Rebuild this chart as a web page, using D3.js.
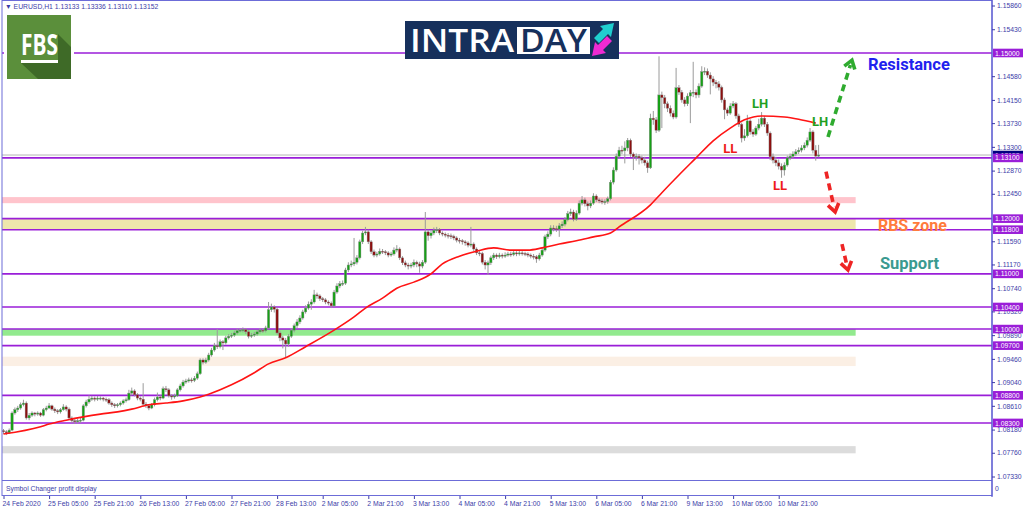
<!DOCTYPE html>
<html>
<head>
<meta charset="utf-8">
<script src="https://cdn.jsdelivr.net/npm/d3@7"></script>
<style>
body { margin: 0; background: #fff; }
svg { display: block; }
</style>
</head>
<body>
<svg id="chart" width="1024" height="511"></svg>
<script>
// EURUSD H1, 24 Feb 13:00 .. 11 Mar 11:00
var firstOpen = 1.0816;
var closes = [
  1.0814,1.0812,1.0817,1.0848,1.0854,1.0857,1.0863,1.0866,1.0839,1.0844,
  1.0848,1.0846,1.0848,1.0844,1.0854,1.0857,1.0861,1.0855,1.0852,1.0850,
  1.0854,1.0859,1.0855,1.0839,1.0834,1.0832,1.0834,1.0835,1.0861,1.0868,
  1.0873,1.0875,1.0873,1.0875,1.0875,1.0873,1.0872,1.0866,1.0863,1.0861,
  1.0863,1.0866,1.0870,1.0872,1.0884,1.0888,1.0881,1.0875,1.0873,1.0864,
  1.0861,1.0857,1.0863,1.0872,1.0877,1.0875,1.0892,1.0890,1.0879,1.0877,
  1.0879,1.0890,1.0897,1.0904,1.0906,1.0908,1.0907,1.0911,1.0919,1.0944,
  1.0940,1.0944,1.0953,1.0962,1.0970,1.0968,1.0977,1.0975,1.0984,1.0987,
  1.0989,1.0993,1.0997,1.0998,1.0999,1.0995,1.0987,1.0989,1.0991,1.0995,
  1.0998,1.0997,1.1002,1.1035,1.1040,1.1036,1.0993,1.0984,1.0980,1.0973,
  1.0987,1.0998,1.1006,1.1013,1.1020,1.1031,1.1038,1.1045,1.1049,1.1062,
  1.1060,1.1055,1.1053,1.1049,1.1047,1.1042,1.1067,1.1078,1.1082,1.1083,
  1.1107,1.1116,1.1118,1.1121,1.1129,1.1158,1.1174,1.1176,1.1158,1.1140,
  1.1134,1.1136,1.1141,1.1140,1.1138,1.1134,1.1136,1.1143,1.1145,1.1129,
  1.1120,1.1116,1.1114,1.1116,1.1121,1.1118,1.1114,1.1121,1.1176,1.1169,
  1.1174,1.1179,1.1180,1.1174,1.1172,1.1170,1.1169,1.1168,1.1165,1.1161,
  1.1160,1.1158,1.1156,1.1152,1.1154,1.1145,1.1138,1.1137,1.1121,1.1116,
  1.1120,1.1129,1.1134,1.1131,1.1134,1.1132,1.1134,1.1136,1.1135,1.1138,
  1.1136,1.1138,1.1137,1.1136,1.1134,1.1132,1.1131,1.1127,1.1134,1.1143,
  1.1167,1.1172,1.1183,1.1182,1.1181,1.1187,1.1190,1.1198,1.1209,1.1212,
  1.1199,1.1210,1.1228,1.1234,1.1227,1.1223,1.1228,1.1241,1.1234,1.1232,
  1.1230,1.1231,1.1236,1.1266,1.1288,1.1313,1.1324,1.1323,1.1328,1.1342,
  1.1317,1.1312,1.1313,1.1310,1.1306,1.1301,1.1292,1.1382,1.1379,1.1360,
  1.1424,1.1419,1.1408,1.1400,1.1391,1.1384,1.1437,1.1429,1.1415,1.1408,
  1.1422,1.1428,1.1429,1.1424,1.1440,1.1466,1.1467,1.1460,1.1453,1.1447,
  1.1444,1.1438,1.1415,1.1397,1.1391,1.1404,1.1408,1.1386,1.1371,1.1346,
  1.1350,1.1377,1.1357,1.1353,1.1364,1.1371,1.1382,1.1371,1.1355,1.1312,
  1.1306,1.1301,1.1295,1.1288,1.1297,1.1310,1.1313,1.1317,1.1321,1.1324,
  1.1328,1.1333,1.1342,1.1357,1.1324,1.13133,1.13152
];
var highs = [
  1.0819,1.0817,1.0820,1.0851,1.0858,1.0861,1.0867,1.0872,1.0869,1.0848,
  1.0851,1.0850,1.0851,1.0850,1.0857,1.0861,1.0866,1.0863,1.0858,1.0855,
  1.0857,1.0864,1.0862,1.0858,1.0842,1.0837,1.0838,1.0839,1.0864,1.0872,
  1.0880,1.0879,1.0878,1.0879,1.0878,1.0877,1.0876,1.0875,1.0869,1.0866,
  1.0866,1.0869,1.0873,1.0876,1.0890,1.0894,1.0891,1.0884,1.0878,1.0902,
  1.0868,1.0864,1.0866,1.0876,1.0885,1.0880,1.0896,1.0897,1.0893,1.0882,
  1.0883,1.0893,1.0901,1.0908,1.0910,1.0912,1.0912,1.0915,1.0923,1.0947,
  1.0947,1.0948,1.0957,1.0966,1.0975,1.1000,1.0981,1.0980,1.0988,1.0991,
  1.0993,1.0997,1.1001,1.1002,1.1003,1.1002,1.0998,1.0993,1.0995,1.0998,
  1.1002,1.1001,1.1006,1.1049,1.1046,1.1043,1.1039,1.0997,1.0988,1.0984,
  1.0991,1.1002,1.1010,1.1018,1.1025,1.1035,1.1043,1.1050,1.1054,1.1071,
  1.1066,1.1063,1.1058,1.1056,1.1052,1.1050,1.1071,1.1083,1.1087,1.1088,
  1.1111,1.1121,1.1124,1.1165,1.1134,1.1162,1.1178,1.1185,1.1180,1.1161,
  1.1144,1.1140,1.1146,1.1145,1.1143,1.1141,1.1140,1.1148,1.1152,1.1148,
  1.1132,1.1124,1.1120,1.1120,1.1126,1.1124,1.1122,1.1125,1.1212,1.1180,
  1.1179,1.1184,1.1185,1.1183,1.1177,1.1175,1.1174,1.1173,1.1171,1.1168,
  1.1165,1.1163,1.1161,1.1159,1.1185,1.1157,1.1148,1.1142,1.1140,1.1125,
  1.1124,1.1133,1.1138,1.1137,1.1138,1.1137,1.1139,1.1140,1.1140,1.1142,
  1.1141,1.1143,1.1141,1.1140,1.1139,1.1137,1.1136,1.1134,1.1138,1.1147,
  1.1171,1.1177,1.1188,1.1188,1.1187,1.1192,1.1195,1.1203,1.1214,1.1218,
  1.1216,1.1215,1.1233,1.1241,1.1238,1.1231,1.1233,1.1246,1.1244,1.1237,
  1.1236,1.1235,1.1240,1.1270,1.1293,1.1318,1.1330,1.1332,1.1340,1.1346,
  1.1345,1.1320,1.1318,1.1317,1.1314,1.1312,1.1305,1.1390,1.1395,1.1384,
  1.1494,1.1430,1.1424,1.1412,1.1405,1.1396,1.1473,1.1442,1.1433,1.1420,
  1.1427,1.1433,1.1484,1.1434,1.1445,1.1476,1.1474,1.1472,1.1465,1.1458,
  1.1451,1.1449,1.1441,1.1419,1.1401,1.1409,1.1413,1.1411,1.1390,1.1374,
  1.1362,1.1388,1.1380,1.1362,1.1368,1.1381,1.1393,1.1386,1.1375,1.1358,
  1.1318,1.1312,1.1307,1.1300,1.1302,1.1314,1.1318,1.1322,1.1326,1.1329,
  1.1333,1.1338,1.1347,1.1364,1.1360,1.1333,1.13336
];
var lows = [
  1.0810,1.0808,1.0810,1.0815,1.0845,1.0850,1.0854,1.0860,1.0836,1.0835,
  1.0841,1.0842,1.0843,1.0841,1.0842,1.0851,1.0855,1.0852,1.0848,1.0846,
  1.0847,1.0852,1.0851,1.0836,1.0830,1.0828,1.0829,1.0830,1.0833,1.0858,
  1.0865,1.0870,1.0869,1.0870,1.0871,1.0869,1.0868,1.0863,1.0859,1.0857,
  1.0858,1.0860,1.0863,1.0867,1.0870,1.0880,1.0878,1.0871,1.0869,1.0861,
  1.0857,1.0853,1.0855,1.0860,1.0869,1.0871,1.0873,1.0886,1.0876,1.0872,
  1.0874,1.0877,1.0887,1.0894,1.0901,1.0903,1.0903,1.0904,1.0908,1.0917,
  1.0936,1.0937,1.0941,1.0950,1.0959,1.0964,1.0965,1.0962,1.0972,1.0981,
  1.0984,1.0986,1.0990,1.0994,1.0994,1.0991,1.0983,1.0984,1.0986,1.0988,
  1.0992,1.0993,1.0994,1.1000,1.1031,1.1030,1.0990,1.0978,1.0965,1.0949,
  1.0968,1.0984,1.0994,1.1002,1.1009,1.1017,1.1028,1.1035,1.1035,1.1046,
  1.1055,1.1051,1.1049,1.1045,1.1043,1.1038,1.1040,1.1064,1.1074,1.1078,
  1.1080,1.1103,1.1112,1.1114,1.1117,1.1126,1.1154,1.1170,1.1154,1.1136,
  1.1130,1.1130,1.1133,1.1136,1.1134,1.1130,1.1131,1.1133,1.1139,1.1125,
  1.1116,1.1112,1.1108,1.1110,1.1112,1.1112,1.1102,1.1110,1.1118,1.1160,
  1.1164,1.1170,1.1174,1.1170,1.1168,1.1166,1.1164,1.1163,1.1161,1.1157,
  1.1155,1.1153,1.1151,1.1148,1.1148,1.1141,1.1134,1.1132,1.1117,1.1108,
  1.1098,1.1116,1.1125,1.1127,1.1128,1.1128,1.1129,1.1131,1.1131,1.1132,
  1.1132,1.1133,1.1133,1.1132,1.1130,1.1128,1.1126,1.1120,1.1124,1.1131,
  1.1140,1.1163,1.1168,1.1177,1.1176,1.1167,1.1183,1.1186,1.1195,1.1205,
  1.1195,1.1196,1.1207,1.1224,1.1222,1.1215,1.1219,1.1225,1.1230,1.1228,
  1.1226,1.1225,1.1227,1.1233,1.1262,1.1285,1.1309,1.1317,1.1300,1.1322,
  1.1312,1.1288,1.1305,1.1298,1.1300,1.1296,1.1283,1.1290,1.1370,1.1355,
  1.1357,1.1364,1.1400,1.1393,1.1385,1.1380,1.1381,1.1424,1.1410,1.1403,
  1.1404,1.1373,1.1420,1.1418,1.1419,1.1437,1.1460,1.1455,1.1425,1.1440,
  1.1436,1.1432,1.1410,1.1380,1.1386,1.1388,1.1400,1.1381,1.1366,1.1338,
  1.1341,1.1347,1.1352,1.1348,1.1350,1.1360,1.1367,1.1366,1.1350,1.1306,
  1.1300,1.1295,1.1289,1.1274,1.1278,1.1294,1.1306,1.1309,1.1313,1.1317,
  1.1320,1.1324,1.1329,1.1339,1.1318,1.1305,1.13110
];

// red moving average, read at a few bars
var maBars = [0,13,16,22,28,34,40,45,51,57,63,69,72,80,88,93,99,106,116,123,127,133,138,144,150,154,160,166,172,178,184,189,195,201,207,213,216,227,231,237,243,249,255,260,266,274,279,285];
var maValues = [1.0810,1.0823,1.0828,1.0835,1.0841,1.0846,1.0850,1.0855,1.0863,1.0866,1.0870,1.0877,1.0882,1.0899,1.0921,1.0937,1.0948,1.0968,1.0998,1.1022,1.1038,1.1056,1.1074,1.1085,1.1100,1.1118,1.1132,1.1141,1.1147,1.1143,1.1143,1.1147,1.1154,1.1160,1.1167,1.1174,1.1185,1.1225,1.1247,1.1279,1.1310,1.1341,1.1364,1.1379,1.1386,1.1384,1.1380,1.1373];

var priceTicks = [1.15860,1.15430,1.14580,1.14150,1.13730,1.13300,1.12870,1.12450,1.11590,1.11170,1.10740,1.10320,1.09890,1.09460,1.09040,1.08610,1.08180,1.07760,1.07330];
var levels = [1.15000,1.13100,1.12000,1.11800,1.11000,1.10400,1.10000,1.09700,1.08800,1.08300];
var zoneTops = [1.1239,1.1200,1.1000,1.0950,1.0788];
var zoneBottoms = [1.1228,1.1180,1.0988,1.0933,1.0775];
var timeLabels = ["24 Feb 2020","25 Feb 05:00","25 Feb 21:00","26 Feb 13:00","27 Feb 05:00","27 Feb 21:00","28 Feb 13:00","2 Mar 05:00","2 Mar 21:00","3 Mar 13:00","4 Mar 05:00","4 Mar 21:00","5 Mar 13:00","6 Mar 05:00","6 Mar 21:00","9 Mar 13:00","10 Mar 05:00","10 Mar 21:00"];
var barsPerLabel = 16;
var lastBid = 1.13152;

var zoneColors = ["#ffc4cc","#eee7ac","#92ea8e","#fbefe4","#dcdcdc"];
var axisColor = "#3c3ca8";
var levelColor = "#9a1ed8";
var uiFont = "'Liberation Sans', Arial, sans-serif";

var svg = d3.select("#chart");
var x = d3.scaleLinear().domain([0, closes.length - 1]).range([3.5, 818.6]);
var y = d3.scaleLinear().domain([1.0733, 1.1586]).range([476.5, 5.5]);

var candles = closes.map(function(c, i) {
  var o = i === 0 ? firstOpen : closes[i - 1];
  return { i: i, o: o, c: c, h: Math.max(highs[i], o, c), l: Math.min(lows[i], o, c) };
});

svg.append("defs").append("clipPath").attr("id", "plot")
  .append("rect").attr("x", 2).attr("y", 1).attr("width", 990).attr("height", 479);

var plot = svg.append("g").attr("clip-path", "url(#plot)");

// zones (rectangles stop at bar ~299)
plot.selectAll(".zone").data(zoneTops).enter().append("rect")
  .attr("class", "zone")
  .attr("x", 2)
  .attr("y", function(d) { return y(d); })
  .attr("width", x(299) - 2)
  .attr("height", function(d, i) { return y(zoneBottoms[i]) - y(d); })
  .attr("fill", function(d, i) { return zoneColors[i]; });

// bid line
plot.append("line")
  .attr("x1", 2).attr("x2", 992)
  .attr("y1", y(lastBid)).attr("y2", y(lastBid))
  .attr("stroke", "#b4b4b4").attr("stroke-width", 1);

// horizontal levels
plot.selectAll(".level").data(levels).enter().append("line")
  .attr("class", "level")
  .attr("x1", 2).attr("x2", 992)
  .attr("y1", function(d) { return y(d); })
  .attr("y2", function(d) { return y(d); })
  .attr("stroke", levelColor).attr("stroke-width", 1.6);

// candles
var cg = plot.selectAll(".candle").data(candles).enter().append("g").attr("class", "candle");
cg.append("line")
  .attr("x1", function(d) { return x(d.i); })
  .attr("x2", function(d) { return x(d.i); })
  .attr("y1", function(d) { return y(d.h); })
  .attr("y2", function(d) { return y(d.l); })
  .attr("stroke", "#9a9a9a").attr("stroke-width", 1);
cg.append("rect")
  .attr("x", function(d) { return x(d.i) - 1.2; })
  .attr("width", 2.4)
  .attr("y", function(d) { return y(Math.max(d.o, d.c)); })
  .attr("height", function(d) { return Math.max(1, Math.abs(y(d.o) - y(d.c))); })
  .attr("fill", function(d) { return d.c >= d.o ? "#16a016" : "#8c0f0f"; })
  .attr("stroke", "#8a8a8a").attr("stroke-width", 0.4);

// moving average
plot.append("path")
  .datum(maBars)
  .attr("fill", "none")
  .attr("stroke", "#ff1414")
  .attr("stroke-width", 1.6)
  .attr("d", d3.line()
    .x(function(d) { return x(d); })
    .y(function(d, i) { return y(maValues[i]); })
    .curve(d3.curveMonotoneX));

// frame
svg.append("rect").attr("x", 2).attr("y", 0.5).attr("width", 990).attr("height", 495)
  .attr("fill", "none").attr("stroke", "#6c6cd8").attr("stroke-width", 1);
svg.append("line").attr("x1", 2).attr("x2", 992).attr("y1", 480.5).attr("y2", 480.5)
  .attr("stroke", "#6c6cd8").attr("stroke-width", 1.2);
svg.append("line").attr("x1", 992).attr("x2", 992).attr("y1", 0).attr("y2", 497)
  .attr("stroke", "#5a5ad0").attr("stroke-width", 1.2);

// header
svg.append("text").attr("x", 5).attr("y", 9)
  .attr("font-family", uiFont).attr("font-size", 6.8).attr("fill", axisColor)
  .text("\u25BC EURUSD,H1  1.13133 1.13336 1.13110 1.13152");
svg.append("text").attr("x", 6).attr("y", 491)
  .attr("font-family", uiFont).attr("font-size", 6.8).attr("fill", axisColor)
  .text("Symbol Changer profit display");

// FBS logo
var fbs = svg.append("g");
fbs.append("rect").attr("x", 4).attr("y", 12).attr("width", 70).attr("height", 70).attr("fill", "#fff");
fbs.append("rect").attr("x", 7).attr("y", 15).attr("width", 64).attr("height", 64).attr("fill", "#5b8f3b");
fbs.append("path").attr("d", "M58,34 L71,47 L71,79 L38,79 L21,63 L58,63 Z").attr("fill", "#3e6a27");
fbs.append("text").attr("x", 21).attr("y", 55)
  .attr("font-family", "'Open Sans', 'DejaVu Sans', sans-serif").attr("font-weight", 700)
  .attr("font-size", 29).attr("fill", "#fff")
  .attr("textLength", 37).attr("lengthAdjust", "spacingAndGlyphs").text("FBS");
fbs.append("rect").attr("x", 21).attr("y", 60).attr("width", 37).attr("height", 3).attr("fill", "#fff");

// INTRADAY logo
var logo = svg.append("g");
logo.append("rect").attr("x", 405).attr("y", 21).attr("width", 214).attr("height", 38).attr("fill", "#16305c");
logo.append("rect").attr("x", 517).attr("y", 27).attr("width", 73).attr("height", 27).attr("fill", "#fff");
logo.append("text").attr("x", 410).attr("y", 52)
  .attr("font-family", "'Open Sans', sans-serif").attr("font-weight", 600)
  .attr("font-size", 32).attr("fill", "#fff")
  .attr("textLength", 104).attr("lengthAdjust", "spacingAndGlyphs").text("INTRA");
logo.append("text").attr("x", 520).attr("y", 52)
  .attr("font-family", "'Open Sans', sans-serif").attr("font-weight", 600)
  .attr("font-size", 32).attr("fill", "#16305c")
  .attr("textLength", 67).attr("lengthAdjust", "spacingAndGlyphs").text("DAY");
logo.append("path").attr("d", "M594,38 L603,29 L600,26 L614,23 L611,37 L608,34 L599,43 Z").attr("fill", "#1fcfcf");
logo.append("path").attr("d", "M612,41 L603,50 L606,53 L592,56 L595,42 L598,45 L607,36 Z").attr("fill", "#ee2ad2");

// annotations, placed in bar/price space
function note(txt, bar, price, size, color) {
  svg.append("text").attr("x", x(bar)).attr("y", y(price))
    .attr("font-family", "Roboto, 'Open Sans', sans-serif").attr("font-weight", 700)
    .attr("font-size", size).attr("fill", color).text(txt);
}
note("LH", 262.6, 1.1400, 13, "#1fa01f");
note("LH", 283.7, 1.1368, 13, "#1fa01f");
note("LL", 252.5, 1.1319, 13, "#ee1c1c");
note("LL", 270.0, 1.1252, 13, "#ee1c1c");
note("Resistance", 303.3, 1.1469, 16.5, "#1f22ee");
note("RBS zone", 306.8, 1.1178, 16, "#ff7c3c");
note("Support", 307.5, 1.1109, 16.5, "#3a9a90");

function dashedArrow(b0, p0, b1, p1, color) {
  var x0 = x(b0), y0 = y(p0), x1 = x(b1), y1 = y(p1);
  var dx = x1 - x0, dy = y1 - y0, len = Math.sqrt(dx * dx + dy * dy);
  var ux = dx / len, uy = dy / len, nx = -uy, ny = ux;
  svg.append("line").attr("x1", x0).attr("y1", y0)
    .attr("x2", x1 - ux * 5).attr("y2", y1 - uy * 5)
    .attr("stroke", color).attr("stroke-width", 3.6).attr("stroke-dasharray", "7,5");
  var a = 8, w = 5.5;
  svg.append("path")
    .attr("d", "M" + (x1 - ux * a + nx * w) + "," + (y1 - uy * a + ny * w) +
      " L" + x1 + "," + y1 +
      " L" + (x1 - ux * a - nx * w) + "," + (y1 - uy * a - ny * w))
    .attr("fill", "none").attr("stroke", color).attr("stroke-width", 3.6)
    .attr("stroke-linejoin", "miter");
}
dashedArrow(289.3, 1.1348, 297.7, 1.1487, "#2fab2f");
dashedArrow(288.6, 1.1285, 291.8, 1.1212, "#ee2424");
dashedArrow(294.2, 1.1154, 296.3, 1.1107, "#ee2424");

// right price axis
var yAxis = svg.append("g").attr("transform", "translate(992,0)")
  .call(d3.axisRight(y).tickValues(priceTicks).tickFormat(d3.format(".5f")).tickSize(3).tickPadding(2));
yAxis.select(".domain").remove();
yAxis.selectAll("line").attr("stroke", axisColor);
yAxis.selectAll("text").attr("font-family", uiFont).attr("font-size", 6.8).attr("fill", axisColor);

// price labels for bid and levels
var tagG = svg.append("g");
function tag(v, fill) {
  tagG.append("rect").attr("x", 993).attr("y", y(v) - 4.3).attr("width", 30).attr("height", 8.6).attr("fill", fill);
  tagG.append("text").attr("x", 995).attr("y", y(v) + 2.6)
    .attr("font-family", uiFont).attr("font-size", 6.8).attr("fill", "#fff").text(d3.format(".5f")(v));
}
tag(lastBid, "#000080");
levels.forEach(function(v) { tag(v, levelColor); });

// bottom time axis
var tickBars = timeLabels.map(function(d, i) { return i * barsPerLabel; });
var xAxis = svg.append("g").attr("transform", "translate(0,496)")
  .call(d3.axisBottom(x).tickValues(tickBars)
    .tickFormat(function(d, i) { return timeLabels[i]; }).tickSize(3).tickPadding(2));
xAxis.select(".domain").remove();
xAxis.selectAll("line").attr("stroke", axisColor);
xAxis.selectAll("text").attr("font-family", uiFont).attr("font-size", 6.8).attr("fill", axisColor)
  .attr("text-anchor", "start").attr("dx", -1.5);

svg.append("text").attr("x", 995).attr("y", 491)
  .attr("font-family", uiFont).attr("font-size", 6.8).attr("fill", axisColor).text("0");
</script>
</body>
</html>
